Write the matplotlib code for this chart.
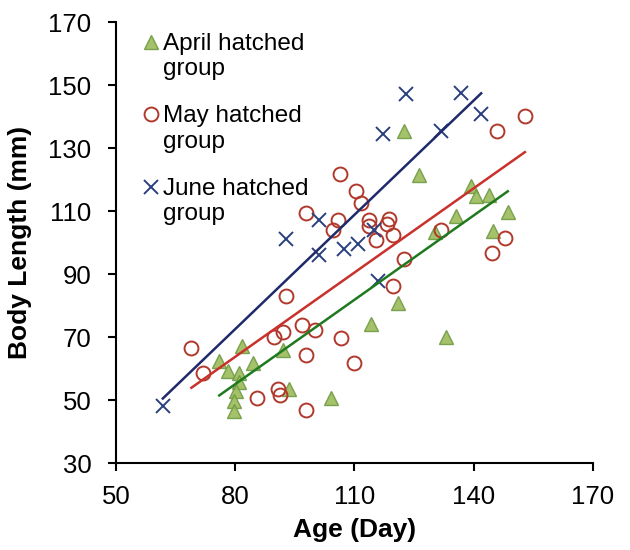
import numpy as np
import matplotlib
matplotlib.use("Agg")
import matplotlib.pyplot as plt
from matplotlib.legend_handler import HandlerLine2D
from matplotlib.transforms import Affine2D

plt.rcParams['font.family'] = ['Liberation Sans', 'DejaVu Sans']

# age (day) and body length (mm) for each hatching group
april_age = [76.0, 78.1, 81.0, 81.8, 84.4, 81.0, 80.2, 79.7, 79.7, 92.0, 93.5,
             104.1, 114.1, 121.0, 133.1, 126.2, 122.6, 139.4, 140.7, 144.0,
             135.6, 148.6, 144.9, 130.4]
april_len = [62.4, 59.2, 58.7, 67.2, 61.9, 55.6, 52.9, 49.7, 46.6, 66.0, 53.6,
             50.8, 74.0, 80.8, 70.1, 121.3, 135.5, 117.8, 114.7, 115.2,
             108.3, 109.6, 103.6, 103.2]

may_age = [69.0, 72.0, 85.6, 90.7, 91.3, 89.8, 92.1, 92.8, 96.7, 100.0, 97.8,
           97.8, 106.7, 110.0, 97.8, 104.7, 105.8, 106.5, 110.4, 111.7, 113.8,
           113.8, 115.5, 118.8, 118.2, 119.8, 119.7, 122.6, 131.9, 144.7,
           145.9, 147.8, 152.9]
may_len = [66.5, 58.5, 50.8, 53.6, 51.5, 70.1, 71.7, 82.9, 73.8, 72.2, 64.2,
           46.8, 69.8, 61.7, 109.4, 104.1, 107.3, 121.8, 116.5, 112.4, 107.3,
           105.2, 100.7, 107.5, 106.0, 102.5, 86.2, 94.8, 104.0, 96.7,
           135.5, 101.5, 140.2]

june_age = [61.8, 92.9, 101.2, 101.0, 107.5, 110.8, 115.0, 115.9, 117.2,
            122.9, 131.9, 136.9, 141.9]
june_len = [48.0, 101.2, 107.1, 96.2, 97.8, 99.4, 104.1, 87.7, 134.5,
            147.2, 135.3, 147.4, 140.9]


class FirstLineHandler(HandlerLine2D):
    # legend marker sits next to the first line of a two-line label
    def create_artists(self, legend, orig_handle, xdescent, ydescent,
                       width, height, fontsize, trans):
        up = Affine2D().translate(0, 0.62 * fontsize) + trans
        return super().create_artists(legend, orig_handle, xdescent, ydescent,
                                      width, height, fontsize, up)


fig = plt.figure(figsize=(6.3, 5.5), dpi=100)
ax = fig.add_axes([0.184, 0.158, 0.757, 0.802])


def trend(ax, x, y, color):
    # least squares line over the range of the group's ages
    x = np.asarray(x)
    k, b = np.polyfit(x, np.asarray(y), 1)
    xs = np.array([x.min(), x.max()])
    ax.plot(xs, k * xs + b, color=color, lw=1.8, zorder=3)


ax.plot(april_age, april_len, ls='none', marker='^', ms=10,
        mfc='#9bbb59', mec='#6f9a45', mew=1.0, alpha=0.9,
        label='April hatched\ngroup', zorder=2)
ax.plot(may_age, may_len, ls='none', marker='o', ms=10,
        mfc='none', mec='#b0392c', mew=1.4,
        label='May hatched\ngroup', zorder=2)
ax.plot(june_age, june_len, ls='none', marker='x', ms=10,
        mec='#2a3f7e', mew=1.4,
        label='June hatched\ngroup', zorder=2)

trend(ax, april_age, april_len, '#1f7a1f')
trend(ax, may_age, may_len, '#c8312c')
trend(ax, june_age, june_len, '#1f2a6b')

ax.set_xlim(50, 170)
ax.set_ylim(30, 170)
ax.set_xticks(np.arange(50, 171, 30))
ax.set_yticks(np.arange(30, 171, 20))
for s in ['top', 'right']:
    ax.spines[s].set_visible(False)
for s in ['left', 'bottom']:
    ax.spines[s].set_linewidth(1.5)
ax.tick_params(labelsize=18.5, width=1.5, length=5.5)
ax.tick_params(axis='y', pad=12)
ax.tick_params(axis='x', pad=10)

ax.set_xlabel('Age (Day)', fontsize=19, fontweight='bold', labelpad=7)
ax.set_ylabel('Body Length (mm)', fontsize=19, fontweight='bold', labelpad=12)

leg = ax.legend(loc='upper left', bbox_to_anchor=(0.027, 0.997), frameon=False,
                fontsize=17.5, handletextpad=0.0, handlelength=1.0,
                labelspacing=1.03, borderaxespad=0.0,
                handler_map={plt.Line2D: FirstLineHandler()})

fig.savefig('out.png', dpi=100)
